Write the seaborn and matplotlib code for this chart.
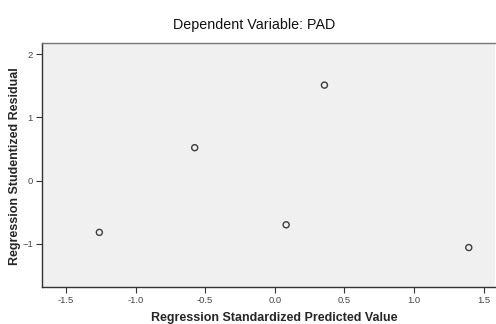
import pandas as pd
import matplotlib.pyplot as plt
import seaborn as sns

# Values
predicted = [-1.26, -0.575, 0.082, 0.357, 1.394]
residual = [-0.82, 0.52, -0.70, 1.51, -1.06]

df = pd.DataFrame({"Predicted": predicted, "Residual": residual})

sns.set_style("white")
plt.rcParams["font.family"] = ["Liberation Sans", "DejaVu Sans"]

fig = plt.figure(figsize=(4.96, 3.24), dpi=100)
ax = fig.add_axes([0.0847, 0.115, 0.914, 0.753])
ax.set_facecolor("#f0f0f0")

sns.scatterplot(
    data=df,
    x="Predicted",
    y="Residual",
    marker="o",
    s=19,
    facecolor="none",
    edgecolor="#3c3c3c",
    linewidth=1.0,
    ax=ax
)

ax.set_xlim(-1.672, 1.585)
ax.set_ylim(-1.68, 2.18)
ax.set_xticks([-1.5, -1.0, -0.5, 0.0, 0.5, 1.0, 1.5])
ax.set_xticklabels(["-1.5", "-1.0", "-0.5", "0.0", "0.5", "1.0", "1.5"])
ax.set_yticks([-1, 0, 1, 2])
ax.tick_params(axis="both", direction="out", length=4.5, width=0.8,
               bottom=True, left=True,
               colors="#333333", labelsize=6.8, labelcolor="#444444", pad=2)

for side in ["left", "bottom"]:
    ax.spines[side].set_color("#333333")
    ax.spines[side].set_linewidth(1.0)
ax.spines["top"].set_color("#777777")
ax.spines["top"].set_linewidth(1.0)
ax.spines["right"].set_visible(False)

ax.set_title("Dependent Variable: PAD", fontsize=10.3, pad=10, color="#111111", x=0.467)
ax.set_xlabel("Regression Standardized Predicted Value", fontsize=9, fontweight="bold", labelpad=5)
ax.xaxis.label.set_x(0.512)
ax.set_ylabel("Regression Studentized Residual", fontsize=9, fontweight="bold")
ax.yaxis.set_label_coords(-0.047, 0.495)

plt.savefig("out.png", dpi=100)
